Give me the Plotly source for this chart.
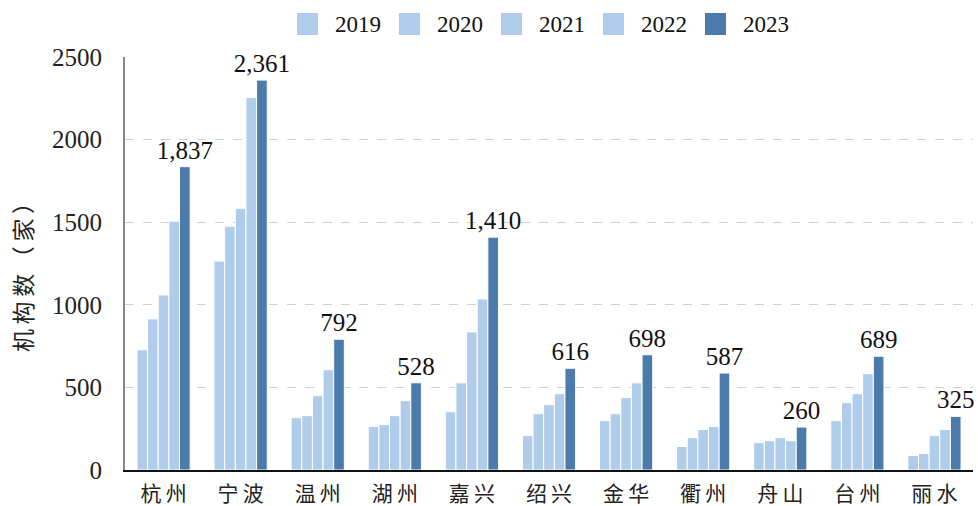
import plotly.graph_objects as go

cities = ["杭州", "宁波", "温州", "湖州", "嘉兴", "绍兴", "金华", "衢州", "舟山", "台州", "丽水"]
years = ["2019", "2020", "2021", "2022", "2023"]
v2019 = [728, 1265, 317, 263, 353, 208, 299, 142, 166, 299, 88]
v2020 = [915, 1476, 329, 275, 528, 341, 341, 196, 178, 408, 100]
v2021 = [1060, 1585, 450, 329, 836, 396, 438, 245, 196, 462, 208]
v2022 = [1507, 2255, 607, 420, 1036, 462, 528, 263, 178, 583, 245]
v2023 = [1837, 2361, 792, 528, 1410, 616, 698, 587, 260, 689, 325]
series = [v2019, v2020, v2021, v2022, v2023]
y_title = "机构数（家）"

LIGHT = "#AFCDEA"
DARK = "#4A7BAA"
colors = [LIGHT, LIGHT, LIGHT, LIGHT, DARK]

SERIF = "Liberation Serif"
CJK = "Noto Sans CJK SC"
THIN = "\u2009"

fig = go.Figure()
for i, (yr, vals) in enumerate(zip(years, series)):
    last = i == len(years) - 1
    fig.add_trace(go.Bar(
        x=cities, y=vals, name=yr,
        marker=dict(color=colors[i], line=dict(color="white", width=1)),
        texttemplate="%{y:,}" if last else None,
        textposition="outside" if last else "none",
        textfont=dict(family=SERIF, size=25, color="#111111"),
        constraintext="none",
        cliponaxis=False,
        showlegend=False,
    ))

# legend (manual, larger squares)
W, H = 978, 506
L, R, T, B = 125, 5, 57, 36
pw, ph = W - L - R, H - T - B
def px(x):
    return (x - L) / pw
def py(y):
    return (H - B - y) / ph

shapes = []
annotations = []
start_x = 297
step = 102
for i, yr in enumerate(years):
    x0 = start_x + i * step
    shapes.append(dict(type="rect", xref="paper", yref="paper",
                       x0=px(x0), x1=px(x0 + 21), y0=py(35), y1=py(13),
                       fillcolor=colors[i], line=dict(width=0)))
    annotations.append(dict(text=yr, xref="paper", yref="paper",
                            x=px(x0 + 36), y=py(24), xanchor="left", yanchor="middle",
                            showarrow=False, font=dict(family=SERIF, size=23, color="#111111")))

annotations.append(dict(text=THIN.join(y_title), xref="paper", yref="paper",
                        x=px(22), y=py(272), xanchor="center", yanchor="middle",
                        textangle=-90, showarrow=False,
                        font=dict(family=CJK, size=23, color="#222222")))

fig.update_layout(
    width=W, height=H,
    margin=dict(l=L, r=R, t=T, b=B),
    paper_bgcolor="white", plot_bgcolor="white",
    font=dict(family=SERIF, color="#111111"),
    barmode="group", bargap=0.31, bargroupgap=0,
    shapes=shapes, annotations=annotations,
    showlegend=False,
)
fig.update_xaxes(
    automargin=False,
    tickmode="array", tickvals=cities, ticktext=[THIN.join(c) for c in cities],
    showline=True, linecolor="#111111", linewidth=1.5,
    tickfont=dict(family=CJK, size=21, color="#222222"),
    ticks="", ticklabelstandoff=4, showgrid=False,
)
fig.update_yaxes(
    automargin=False,
    range=[0, 2501], tickvals=[0, 500, 1000, 1500, 2000, 2500],
    showline=True, linecolor="#888888", linewidth=2,
    showgrid=True, gridcolor="#d0d0d0", griddash="dash", gridwidth=1,
    tickfont=dict(family=SERIF, size=25, color="#222222"),
    ticks="", ticklabelstandoff=16, zeroline=False,
)

fig.write_html("out.html", config={"displayModeBar": False},
               post_script="document.body.style.margin='0';document.body.style.overflow='hidden';")
